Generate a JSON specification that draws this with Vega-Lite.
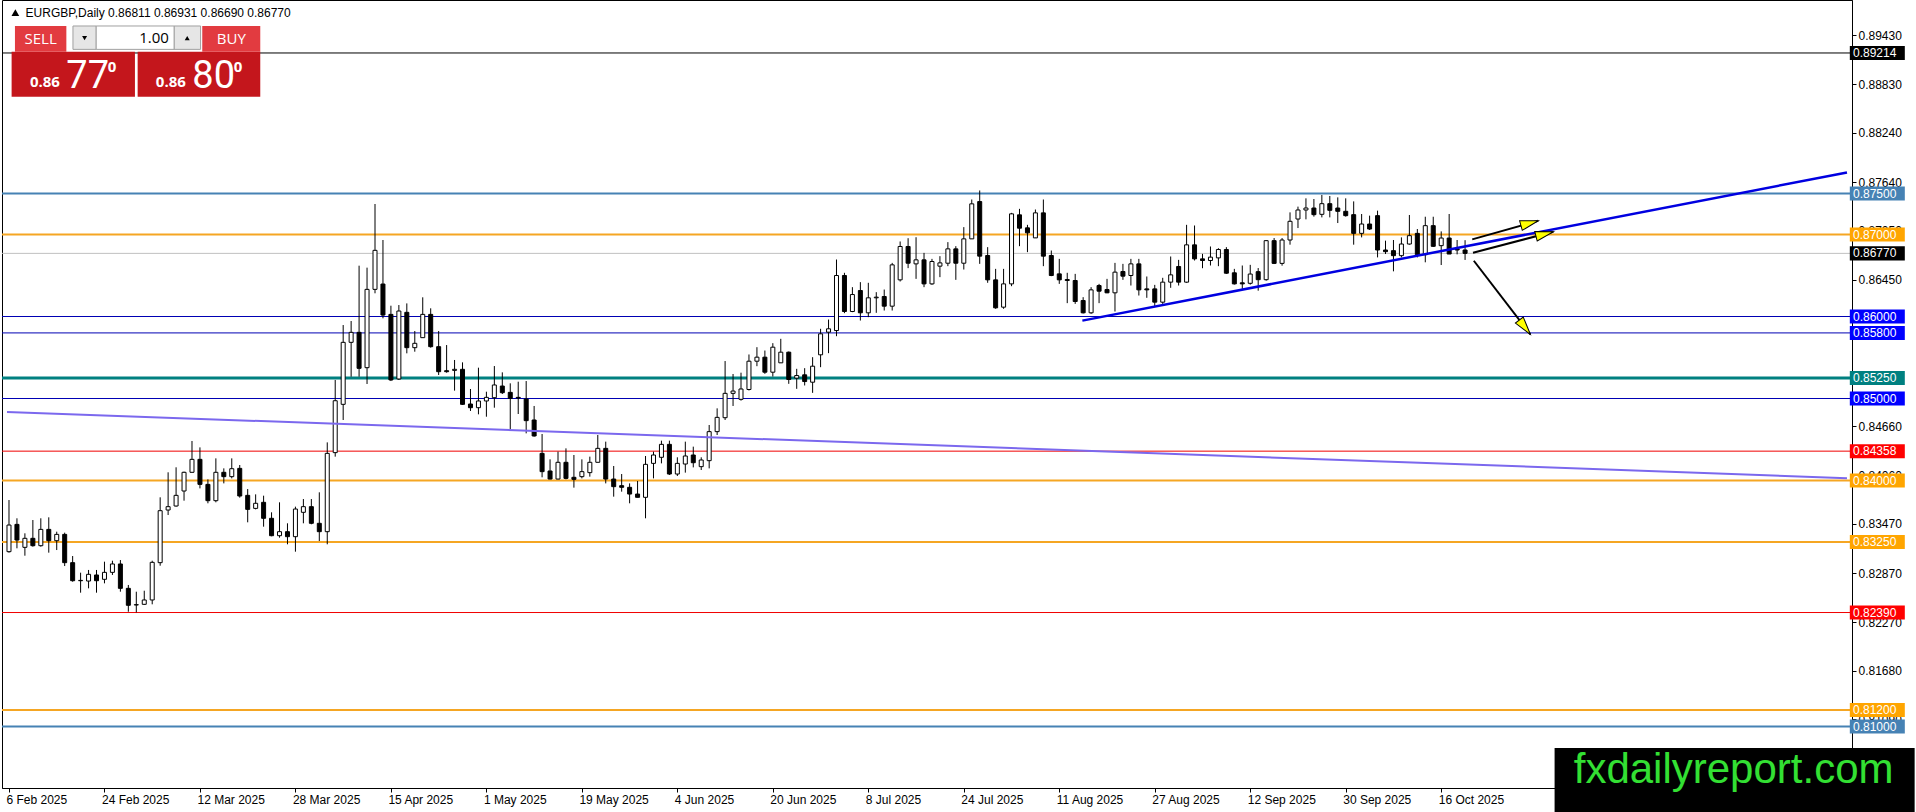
{
  "$schema": "https://vega.github.io/schema/vega-lite/v6.json",
  "description": "EURGBP daily candles with horizontal levels, trend lines and arrows",
  "width": 1850,
  "height": 788,
  "autosize": "none",
  "padding": {"left": 2, "top": 0, "right": 64, "bottom": 24},
  "background": "white",
  "config": {
    "view": {"stroke": "black", "strokeWidth": 1},
    "font": "Liberation Sans",
    "axis": {"grid": false, "domainColor": "black", "tickColor": "black", "labelColor": "black", "labelFont": "Liberation Sans", "labelFontSize": 12}
  },
  "datasets": {
    "candles": [
      {"d":"2025-02-06","i":0,"o":0.83132,"h":0.83762,"l":0.8312,"c":0.83457},
      {"d":"2025-02-07","i":1,"o":0.83465,"h":0.83539,"l":0.83173,"c":0.83274},
      {"d":"2025-02-10","i":2,"o":0.83185,"h":0.83356,"l":0.83083,"c":0.83295},
      {"d":"2025-02-11","i":3,"o":0.83295,"h":0.83518,"l":0.83193,"c":0.83205},
      {"d":"2025-02-12","i":4,"o":0.83205,"h":0.83539,"l":0.83193,"c":0.83404},
      {"d":"2025-02-13","i":5,"o":0.83404,"h":0.83551,"l":0.8312,"c":0.83266},
      {"d":"2025-02-14","i":6,"o":0.83266,"h":0.83376,"l":0.83152,"c":0.83343},
      {"d":"2025-02-17","i":7,"o":0.83343,"h":0.83364,"l":0.82957,"c":0.82998},
      {"d":"2025-02-18","i":8,"o":0.82998,"h":0.83079,"l":0.82766,"c":0.82778},
      {"d":"2025-02-19","i":9,"o":0.82778,"h":0.82876,"l":0.82632,"c":0.82782},
      {"d":"2025-02-20","i":10,"o":0.82774,"h":0.82909,"l":0.82685,"c":0.82856},
      {"d":"2025-02-21","i":11,"o":0.82848,"h":0.82909,"l":0.82632,"c":0.82778},
      {"d":"2025-02-24","i":12,"o":0.82795,"h":0.8301,"l":0.82746,"c":0.8288},
      {"d":"2025-02-25","i":13,"o":0.8288,"h":0.83022,"l":0.82848,"c":0.82982},
      {"d":"2025-02-26","i":14,"o":0.82982,"h":0.8303,"l":0.82644,"c":0.82685},
      {"d":"2025-02-27","i":15,"o":0.82685,"h":0.82726,"l":0.824,"c":0.82478},
      {"d":"2025-02-28","i":16,"o":0.82482,"h":0.82644,"l":0.82392,"c":0.82486},
      {"d":"2025-03-03","i":17,"o":0.8249,"h":0.82656,"l":0.82482,"c":0.82543},
      {"d":"2025-03-04","i":18,"o":0.82543,"h":0.83022,"l":0.8249,"c":0.83002},
      {"d":"2025-03-05","i":19,"o":0.82998,"h":0.83795,"l":0.82961,"c":0.83632},
      {"d":"2025-03-06","i":20,"o":0.8364,"h":0.841,"l":0.83579,"c":0.83681},
      {"d":"2025-03-07","i":21,"o":0.83689,"h":0.84161,"l":0.83681,"c":0.83819},
      {"d":"2025-03-10","i":22,"o":0.83872,"h":0.84108,"l":0.83754,"c":0.841},
      {"d":"2025-03-11","i":23,"o":0.841,"h":0.84482,"l":0.84096,"c":0.84258},
      {"d":"2025-03-12","i":24,"o":0.84258,"h":0.84404,"l":0.83904,"c":0.83953},
      {"d":"2025-03-13","i":25,"o":0.83953,"h":0.84014,"l":0.83722,"c":0.83754},
      {"d":"2025-03-14","i":26,"o":0.83754,"h":0.8427,"l":0.83734,"c":0.841},
      {"d":"2025-03-17","i":27,"o":0.841,"h":0.84148,"l":0.83965,"c":0.84047},
      {"d":"2025-03-18","i":28,"o":0.84047,"h":0.8427,"l":0.84026,"c":0.84144},
      {"d":"2025-03-19","i":29,"o":0.84148,"h":0.84189,"l":0.83791,"c":0.83811},
      {"d":"2025-03-20","i":30,"o":0.83819,"h":0.83896,"l":0.8349,"c":0.83648},
      {"d":"2025-03-21","i":31,"o":0.8366,"h":0.83831,"l":0.83648,"c":0.83722},
      {"d":"2025-03-24","i":32,"o":0.83734,"h":0.83815,"l":0.83437,"c":0.83539},
      {"d":"2025-03-25","i":33,"o":0.83539,"h":0.83612,"l":0.8332,"c":0.83327},
      {"d":"2025-03-26","i":34,"o":0.83327,"h":0.83734,"l":0.83303,"c":0.83376},
      {"d":"2025-03-27","i":35,"o":0.83376,"h":0.83478,"l":0.83222,"c":0.83315},
      {"d":"2025-03-28","i":36,"o":0.83315,"h":0.83681,"l":0.83132,"c":0.83652},
      {"d":"2025-03-31","i":37,"o":0.83612,"h":0.83774,"l":0.83478,"c":0.83681},
      {"d":"2025-04-01","i":38,"o":0.83681,"h":0.83774,"l":0.83466,"c":0.83478},
      {"d":"2025-04-02","i":39,"o":0.83478,"h":0.83856,"l":0.83262,"c":0.83376},
      {"d":"2025-04-03","i":40,"o":0.83376,"h":0.84465,"l":0.83222,"c":0.84331},
      {"d":"2025-04-04","i":41,"o":0.8434,"h":0.85226,"l":0.84291,"c":0.84973},
      {"d":"2025-04-07","i":42,"o":0.84929,"h":0.85896,"l":0.84738,"c":0.85685},
      {"d":"2025-04-08","i":43,"o":0.85685,"h":0.85945,"l":0.85266,"c":0.85807},
      {"d":"2025-04-09","i":44,"o":0.85807,"h":0.8662,"l":0.85266,"c":0.85368},
      {"d":"2025-04-10","i":45,"o":0.85376,"h":0.86596,"l":0.85177,"c":0.86331},
      {"d":"2025-04-11","i":46,"o":0.86331,"h":0.87372,"l":0.86283,"c":0.86807},
      {"d":"2025-04-14","i":47,"o":0.86396,"h":0.86933,"l":0.85978,"c":0.86018},
      {"d":"2025-04-15","i":48,"o":0.86026,"h":0.86132,"l":0.85213,"c":0.85226},
      {"d":"2025-04-16","i":49,"o":0.85238,"h":0.8614,"l":0.85226,"c":0.86067},
      {"d":"2025-04-17","i":50,"o":0.86051,"h":0.8616,"l":0.85551,"c":0.8562},
      {"d":"2025-04-18","i":51,"o":0.8562,"h":0.85823,"l":0.85571,"c":0.85673},
      {"d":"2025-04-21","i":52,"o":0.85742,"h":0.86234,"l":0.85742,"c":0.86026},
      {"d":"2025-04-22","i":53,"o":0.86026,"h":0.861,"l":0.8562,"c":0.85632},
      {"d":"2025-04-23","i":54,"o":0.85632,"h":0.85823,"l":0.85287,"c":0.85327},
      {"d":"2025-04-24","i":55,"o":0.85339,"h":0.85652,"l":0.85315,"c":0.85327},
      {"d":"2025-04-25","i":56,"o":0.85343,"h":0.8547,"l":0.85096,"c":0.85356},
      {"d":"2025-04-28","i":57,"o":0.85356,"h":0.85441,"l":0.84921,"c":0.84929},
      {"d":"2025-04-29","i":58,"o":0.84933,"h":0.85116,"l":0.84848,"c":0.84888},
      {"d":"2025-04-30","i":59,"o":0.84888,"h":0.85376,"l":0.84807,"c":0.8497},
      {"d":"2025-05-01","i":60,"o":0.8497,"h":0.85083,"l":0.84778,"c":0.85014},
      {"d":"2025-05-02","i":61,"o":0.8501,"h":0.85396,"l":0.84888,"c":0.85165},
      {"d":"2025-05-05","i":62,"o":0.85152,"h":0.85319,"l":0.85055,"c":0.85071},
      {"d":"2025-05-06","i":63,"o":0.85075,"h":0.85185,"l":0.84624,"c":0.85002},
      {"d":"2025-05-07","i":64,"o":0.85014,"h":0.85205,"l":0.84811,"c":0.85006},
      {"d":"2025-05-08","i":65,"o":0.84994,"h":0.85213,"l":0.84575,"c":0.8473},
      {"d":"2025-05-09","i":66,"o":0.84738,"h":0.84909,"l":0.84535,"c":0.84543},
      {"d":"2025-05-12","i":67,"o":0.84331,"h":0.84567,"l":0.84039,"c":0.84108},
      {"d":"2025-05-13","i":68,"o":0.84116,"h":0.84258,"l":0.84014,"c":0.84018},
      {"d":"2025-05-14","i":69,"o":0.84018,"h":0.84352,"l":0.84014,"c":0.84222},
      {"d":"2025-05-15","i":70,"o":0.84222,"h":0.84392,"l":0.84014,"c":0.84026},
      {"d":"2025-05-16","i":71,"o":0.84039,"h":0.84311,"l":0.83913,"c":0.84014},
      {"d":"2025-05-19","i":72,"o":0.84047,"h":0.84258,"l":0.84026,"c":0.84108},
      {"d":"2025-05-20","i":73,"o":0.84096,"h":0.84291,"l":0.84047,"c":0.84222},
      {"d":"2025-05-21","i":74,"o":0.84222,"h":0.84555,"l":0.84222,"c":0.84392},
      {"d":"2025-05-22","i":75,"o":0.84392,"h":0.84474,"l":0.83965,"c":0.84018},
      {"d":"2025-05-23","i":76,"o":0.84018,"h":0.84177,"l":0.83803,"c":0.83925},
      {"d":"2025-05-26","i":77,"o":0.83937,"h":0.84079,"l":0.83864,"c":0.83917},
      {"d":"2025-05-27","i":78,"o":0.83917,"h":0.83965,"l":0.83722,"c":0.83835},
      {"d":"2025-05-28","i":79,"o":0.83835,"h":0.83994,"l":0.83795,"c":0.83795},
      {"d":"2025-05-29","i":80,"o":0.83795,"h":0.84299,"l":0.83539,"c":0.84197},
      {"d":"2025-05-30","i":81,"o":0.84209,"h":0.84352,"l":0.84026,"c":0.84311},
      {"d":"2025-06-02","i":82,"o":0.84283,"h":0.84486,"l":0.84209,"c":0.84441},
      {"d":"2025-06-03","i":83,"o":0.84441,"h":0.84486,"l":0.84067,"c":0.84079},
      {"d":"2025-06-04","i":84,"o":0.84079,"h":0.84283,"l":0.84055,"c":0.84209},
      {"d":"2025-06-05","i":85,"o":0.84201,"h":0.84474,"l":0.84096,"c":0.84299},
      {"d":"2025-06-06","i":86,"o":0.84311,"h":0.84413,"l":0.8416,"c":0.84217},
      {"d":"2025-06-09","i":87,"o":0.84169,"h":0.84283,"l":0.84128,"c":0.8425},
      {"d":"2025-06-10","i":88,"o":0.84242,"h":0.84677,"l":0.84148,"c":0.84596},
      {"d":"2025-06-11","i":89,"o":0.84596,"h":0.8488,"l":0.84555,"c":0.8477},
      {"d":"2025-06-12","i":90,"o":0.84766,"h":0.85457,"l":0.84738,"c":0.85063},
      {"d":"2025-06-13","i":91,"o":0.85063,"h":0.85299,"l":0.84909,"c":0.85091},
      {"d":"2025-06-16","i":92,"o":0.8499,"h":0.85315,"l":0.84974,"c":0.85116},
      {"d":"2025-06-17","i":93,"o":0.8511,"h":0.85537,"l":0.85098,"c":0.85455},
      {"d":"2025-06-18","i":94,"o":0.85455,"h":0.85626,"l":0.85394,"c":0.85504},
      {"d":"2025-06-19","i":95,"o":0.85504,"h":0.85585,"l":0.85301,"c":0.85321},
      {"d":"2025-06-20","i":96,"o":0.85321,"h":0.85675,"l":0.85268,"c":0.85626},
      {"d":"2025-06-23","i":97,"o":0.85435,"h":0.85728,"l":0.85435,"c":0.85565},
      {"d":"2025-06-24","i":98,"o":0.85565,"h":0.85573,"l":0.85179,"c":0.85232},
      {"d":"2025-06-25","i":99,"o":0.85248,"h":0.85362,"l":0.85118,"c":0.8528},
      {"d":"2025-06-26","i":100,"o":0.85289,"h":0.8537,"l":0.85159,"c":0.85207},
      {"d":"2025-06-27","i":101,"o":0.85199,"h":0.85504,"l":0.85069,"c":0.85394},
      {"d":"2025-06-30","i":102,"o":0.85533,"h":0.8585,"l":0.85382,"c":0.85789},
      {"d":"2025-07-01","i":103,"o":0.85809,"h":0.85963,"l":0.85553,"c":0.8585},
      {"d":"2025-07-02","i":104,"o":0.85829,"h":0.86695,"l":0.8576,"c":0.865},
      {"d":"2025-07-03","i":105,"o":0.865,"h":0.86533,"l":0.86041,"c":0.86061},
      {"d":"2025-07-04","i":106,"o":0.86061,"h":0.86358,"l":0.86053,"c":0.86268},
      {"d":"2025-07-07","i":107,"o":0.86317,"h":0.86419,"l":0.85951,"c":0.86045},
      {"d":"2025-07-08","i":108,"o":0.86045,"h":0.86411,"l":0.85992,"c":0.86228},
      {"d":"2025-07-09","i":109,"o":0.86228,"h":0.86297,"l":0.86045,"c":0.86236},
      {"d":"2025-07-10","i":110,"o":0.86244,"h":0.86329,"l":0.86073,"c":0.86126},
      {"d":"2025-07-11","i":111,"o":0.86126,"h":0.86654,"l":0.86073,"c":0.8663},
      {"d":"2025-07-14","i":112,"o":0.86447,"h":0.86915,"l":0.86427,"c":0.86854},
      {"d":"2025-07-15","i":113,"o":0.86854,"h":0.86955,"l":0.8659,"c":0.8665},
      {"d":"2025-07-16","i":114,"o":0.86642,"h":0.86967,"l":0.86459,"c":0.86691},
      {"d":"2025-07-17","i":115,"o":0.86691,"h":0.86776,"l":0.86358,"c":0.86398},
      {"d":"2025-07-18","i":116,"o":0.86398,"h":0.86703,"l":0.86386,"c":0.86671},
      {"d":"2025-07-21","i":117,"o":0.86614,"h":0.86736,"l":0.8648,"c":0.86654},
      {"d":"2025-07-22","i":118,"o":0.8665,"h":0.86907,"l":0.86614,"c":0.86825},
      {"d":"2025-07-23","i":119,"o":0.86825,"h":0.86858,"l":0.86447,"c":0.8665},
      {"d":"2025-07-24","i":120,"o":0.8665,"h":0.8709,"l":0.86573,"c":0.86947},
      {"d":"2025-07-25","i":121,"o":0.86947,"h":0.87427,"l":0.86947,"c":0.87374},
      {"d":"2025-07-28","i":122,"o":0.87402,"h":0.87537,"l":0.86642,"c":0.86736},
      {"d":"2025-07-29","i":123,"o":0.86744,"h":0.86846,"l":0.86411,"c":0.86447},
      {"d":"2025-07-30","i":124,"o":0.86447,"h":0.86581,"l":0.86094,"c":0.86106},
      {"d":"2025-07-31","i":125,"o":0.86114,"h":0.86581,"l":0.86094,"c":0.86398},
      {"d":"2025-08-01","i":126,"o":0.86398,"h":0.87264,"l":0.8637,"c":0.87252},
      {"d":"2025-08-04","i":127,"o":0.8724,"h":0.87313,"l":0.86858,"c":0.87077},
      {"d":"2025-08-05","i":128,"o":0.87081,"h":0.87118,"l":0.86785,"c":0.8702},
      {"d":"2025-08-06","i":129,"o":0.86959,"h":0.87305,"l":0.86959,"c":0.87264},
      {"d":"2025-08-07","i":130,"o":0.87264,"h":0.87427,"l":0.86614,"c":0.86736},
      {"d":"2025-08-08","i":131,"o":0.86744,"h":0.86805,"l":0.86492,"c":0.865},
      {"d":"2025-08-11","i":132,"o":0.8652,"h":0.86703,"l":0.86398,"c":0.86447},
      {"d":"2025-08-12","i":133,"o":0.86451,"h":0.86533,"l":0.86163,"c":0.86439},
      {"d":"2025-08-13","i":134,"o":0.86439,"h":0.8652,"l":0.86154,"c":0.86183},
      {"d":"2025-08-14","i":135,"o":0.86195,"h":0.86236,"l":0.86037,"c":0.86045},
      {"d":"2025-08-15","i":136,"o":0.86045,"h":0.86358,"l":0.86033,"c":0.86325},
      {"d":"2025-08-18","i":137,"o":0.86378,"h":0.86398,"l":0.86163,"c":0.86309},
      {"d":"2025-08-19","i":138,"o":0.86329,"h":0.86459,"l":0.86285,"c":0.86289},
      {"d":"2025-08-20","i":139,"o":0.86289,"h":0.86654,"l":0.86061,"c":0.86541},
      {"d":"2025-08-21","i":140,"o":0.86549,"h":0.86642,"l":0.86447,"c":0.86492},
      {"d":"2025-08-22","i":141,"o":0.865,"h":0.86703,"l":0.86378,"c":0.86642},
      {"d":"2025-08-25","i":142,"o":0.86642,"h":0.86703,"l":0.86256,"c":0.86325},
      {"d":"2025-08-26","i":143,"o":0.86337,"h":0.86488,"l":0.86228,"c":0.86325},
      {"d":"2025-08-27","i":144,"o":0.86337,"h":0.86386,"l":0.86126,"c":0.86175},
      {"d":"2025-08-28","i":145,"o":0.86175,"h":0.86472,"l":0.86154,"c":0.86419},
      {"d":"2025-08-29","i":146,"o":0.86419,"h":0.86732,"l":0.8635,"c":0.86508},
      {"d":"2025-09-01","i":147,"o":0.8661,"h":0.86691,"l":0.86378,"c":0.86419},
      {"d":"2025-09-02","i":148,"o":0.86419,"h":0.87118,"l":0.86411,"c":0.86874},
      {"d":"2025-09-03","i":149,"o":0.86874,"h":0.8711,"l":0.86683,"c":0.86703},
      {"d":"2025-09-04","i":150,"o":0.86703,"h":0.86764,"l":0.86589,"c":0.86683},
      {"d":"2025-09-05","i":151,"o":0.86683,"h":0.86854,"l":0.86622,"c":0.86724},
      {"d":"2025-09-08","i":152,"o":0.86715,"h":0.86833,"l":0.86614,"c":0.86817},
      {"d":"2025-09-09","i":153,"o":0.86817,"h":0.86846,"l":0.8652,"c":0.86528},
      {"d":"2025-09-10","i":154,"o":0.86533,"h":0.86581,"l":0.8639,"c":0.86398},
      {"d":"2025-09-11","i":155,"o":0.86411,"h":0.86622,"l":0.86337,"c":0.86398},
      {"d":"2025-09-12","i":156,"o":0.86405,"h":0.8663,"l":0.86389,"c":0.86518},
      {"d":"2025-09-15","i":157,"o":0.86547,"h":0.86591,"l":0.86315,"c":0.86449},
      {"d":"2025-09-16","i":158,"o":0.86449,"h":0.86933,"l":0.86437,"c":0.86925},
      {"d":"2025-09-17","i":159,"o":0.86925,"h":0.86957,"l":0.8664,"c":0.86648},
      {"d":"2025-09-18","i":160,"o":0.86648,"h":0.86957,"l":0.8662,"c":0.86933},
      {"d":"2025-09-19","i":161,"o":0.86933,"h":0.8727,"l":0.86876,"c":0.87161},
      {"d":"2025-09-22","i":162,"o":0.87189,"h":0.8734,"l":0.87079,"c":0.87299},
      {"d":"2025-09-23","i":163,"o":0.87299,"h":0.87441,"l":0.87185,"c":0.87323},
      {"d":"2025-09-24","i":164,"o":0.87323,"h":0.87433,"l":0.87218,"c":0.87242},
      {"d":"2025-09-25","i":165,"o":0.87246,"h":0.87482,"l":0.87209,"c":0.87376},
      {"d":"2025-09-26","i":166,"o":0.87376,"h":0.8747,"l":0.87209,"c":0.87295},
      {"d":"2025-09-29","i":167,"o":0.87323,"h":0.87453,"l":0.8714,"c":0.87283},
      {"d":"2025-09-30","i":168,"o":0.87283,"h":0.87441,"l":0.87218,"c":0.8723},
      {"d":"2025-10-01","i":169,"o":0.87242,"h":0.87404,"l":0.86876,"c":0.87014},
      {"d":"2025-10-02","i":170,"o":0.87014,"h":0.8725,"l":0.86965,"c":0.87128},
      {"d":"2025-10-03","i":171,"o":0.87128,"h":0.8723,"l":0.87055,"c":0.87067},
      {"d":"2025-10-06","i":172,"o":0.8723,"h":0.87291,"l":0.86721,"c":0.86811},
      {"d":"2025-10-07","i":173,"o":0.86811,"h":0.86925,"l":0.86762,"c":0.86791},
      {"d":"2025-10-08","i":174,"o":0.86803,"h":0.86933,"l":0.86551,"c":0.86742},
      {"d":"2025-10-09","i":175,"o":0.86742,"h":0.86965,"l":0.86721,"c":0.86884},
      {"d":"2025-10-10","i":176,"o":0.86884,"h":0.87238,"l":0.86876,"c":0.86986},
      {"d":"2025-10-13","i":177,"o":0.87014,"h":0.87067,"l":0.86721,"c":0.86754},
      {"d":"2025-10-14","i":178,"o":0.86754,"h":0.87217,"l":0.86661,"c":0.87108},
      {"d":"2025-10-15","i":179,"o":0.87108,"h":0.87217,"l":0.86848,"c":0.86856},
      {"d":"2025-10-16","i":180,"o":0.86864,"h":0.87038,"l":0.86628,"c":0.86957},
      {"d":"2025-10-17","i":181,"o":0.86957,"h":0.8725,"l":0.86762,"c":0.86762},
      {"d":"2025-10-20","i":182,"o":0.86823,"h":0.86933,"l":0.86758,"c":0.86811},
      {"d":"2025-10-21","i":183,"o":0.86811,"h":0.86931,"l":0.8669,"c":0.8677}
    ],
    "levels": [
      {"p":0.89214,"g":"black"},
      {"p":0.875,"g":"steel"},
      {"p":0.87,"g":"orange"},
      {"p":0.8677,"g":"price"},
      {"p":0.86,"g":"blue"},
      {"p":0.858,"g":"blue"},
      {"p":0.8525,"g":"teal"},
      {"p":0.85,"g":"blue"},
      {"p":0.84358,"g":"red"},
      {"p":0.84,"g":"orange"},
      {"p":0.8325,"g":"orange"},
      {"p":0.8239,"g":"red"},
      {"p":0.812,"g":"orange"},
      {"p":0.81,"g":"steel"}
    ],
    "trend": [
      {"name":"support","i":134.9,"p":0.8595},
      {"name":"support","i":231,"p":0.87757},
      {"name":"channel","i":-0.25,"p":0.84836},
      {"name":"channel","i":231,"p":0.84029}
    ],
    "arrows": [
      {"id":"up1","i":183.9,"p":0.86941,"i2":192.2,"p2":0.87168},
      {"id":"up2","i":184,"p":0.86778,"i2":194.1,"p2":0.87034},
      {"id":"down","i":184.1,"p":0.8668,"i2":191.2,"p2":0.85783}
    ]
  },
  "layer": [
    {
      "data": {"name": "levels"},
      "transform": [{"filter": "datum.g == 'black' || datum.g == 'price' || datum.g == 'blue' || datum.g == 'red'"}],
      "mark": {"type": "rule", "strokeWidth": 1},
      "encoding": {
        "y": {"field": "p", "type": "quantitative", "title": null,
          "scale": {"domain": [0.8025, 0.8986], "nice": false, "zero": false},
          "axis": {"orient": "right", "title": null, "format": ".5f",
            "values": [0.8943, 0.8883, 0.8824, 0.8764, 0.8705, 0.8645, 0.8466, 0.8406, 0.8347, 0.8287, 0.8227, 0.8168, 0.8109],
            "tickSize": 4, "labelPadding": 2, "labelOverlap": false, "labelBound": false, "labelFlush": false}},
        "stroke": {"field": "g", "type": "nominal", "legend": null,
          "scale": {"domain": ["black", "steel", "orange", "price", "blue", "teal", "red"], "range": ["#000000", "#4682B4", "#F5A623", "#C0C0C0", "#0000B4", "#008080", "#F00000"]}}
      }
    },
    {
      "data": {"name": "levels"},
      "transform": [{"filter": "datum.g == 'steel' || datum.g == 'orange'"}],
      "mark": {"type": "rule", "strokeWidth": 2},
      "encoding": {
        "y": {"field": "p", "type": "quantitative", "title": null, "scale": {"domain": [0.8025, 0.8986], "nice": false, "zero": false}},
        "stroke": {"field": "g", "type": "nominal", "legend": null,
          "scale": {"domain": ["black", "steel", "orange", "price", "blue", "teal", "red"], "range": ["#000000", "#4682B4", "#F5A623", "#C0C0C0", "#0000B4", "#008080", "#F00000"]}}
      }
    },
    {
      "data": {"name": "levels"},
      "transform": [{"filter": "datum.g == 'teal'"}],
      "mark": {"type": "rule", "strokeWidth": 3},
      "encoding": {
        "y": {"field": "p", "type": "quantitative", "title": null, "scale": {"domain": [0.8025, 0.8986], "nice": false, "zero": false}},
        "stroke": {"field": "g", "type": "nominal", "legend": null,
          "scale": {"domain": ["black", "steel", "orange", "price", "blue", "teal", "red"], "range": ["#000000", "#4682B4", "#F5A623", "#C0C0C0", "#0000B4", "#008080", "#F00000"]}}
      }
    },
    {
      "data": {"name": "candles"},
      "mark": {"type": "rule", "color": "black", "strokeWidth": 1},
      "encoding": {
        "x": {"field": "i", "type": "quantitative", "title": null,
          "scale": {"domain": [-0.25, 231], "nice": false, "zero": false},
          "axis": {"orient": "bottom", "title": null,
            "values": [0, 12, 24, 36, 48, 60, 72, 84, 96, 108, 120, 132, 144, 156, 168, 180],
            "labelExpr": "['6 Feb 2025','24 Feb 2025','12 Mar 2025','28 Mar 2025','15 Apr 2025','1 May 2025','19 May 2025','4 Jun 2025','20 Jun 2025','8 Jul 2025','24 Jul 2025','11 Aug 2025','27 Aug 2025','12 Sep 2025','30 Sep 2025','16 Oct 2025'][round(datum.value / 12)]",
            "labelAlign": "left", "labelBaseline": "top", "labelOffset": -3, "tickSize": 4, "labelPadding": 2, "labelOverlap": false, "labelBound": false, "labelFlush": false}},
        "y": {"field": "l", "type": "quantitative", "title": null, "scale": {"domain": [0.8025, 0.8986], "nice": false, "zero": false}},
        "y2": {"field": "h"}
      }
    },
    {
      "data": {"name": "candles"},
      "mark": {"type": "bar", "width": 4, "stroke": "black", "strokeWidth": 1, "orient": "vertical"},
      "encoding": {
        "x": {"field": "i", "type": "quantitative", "title": null, "scale": {"domain": [-0.25, 231], "nice": false, "zero": false}},
        "y": {"field": "o", "type": "quantitative", "title": null, "scale": {"domain": [0.8025, 0.8986], "nice": false, "zero": false}},
        "y2": {"field": "c"},
        "fill": {"condition": {"test": "datum.c >= datum.o", "value": "white"}, "value": "black"}
      }
    },
    {
      "data": {"name": "trend"},
      "transform": [{"filter": "datum.name == 'channel'"}],
      "mark": {"type": "line", "color": "#7B68EE", "strokeWidth": 2},
      "encoding": {
        "x": {"field": "i", "type": "quantitative", "title": null, "scale": {"domain": [-0.25, 231], "nice": false, "zero": false}},
        "y": {"field": "p", "type": "quantitative", "title": null, "scale": {"domain": [0.8025, 0.8986], "nice": false, "zero": false}}
      }
    },
    {
      "data": {"name": "trend"},
      "transform": [{"filter": "datum.name == 'support'"}],
      "mark": {"type": "line", "color": "#0000E0", "strokeWidth": 2.5},
      "encoding": {
        "x": {"field": "i", "type": "quantitative", "title": null, "scale": {"domain": [-0.25, 231], "nice": false, "zero": false}},
        "y": {"field": "p", "type": "quantitative", "title": null, "scale": {"domain": [0.8025, 0.8986], "nice": false, "zero": false}}
      }
    },
    {
      "data": {"name": "arrows"},
      "mark": {"type": "rule", "color": "black", "strokeWidth": 2},
      "encoding": {
        "x": {"field": "i", "type": "quantitative", "title": null, "scale": {"domain": [-0.25, 231], "nice": false, "zero": false}},
        "y": {"field": "p", "type": "quantitative", "title": null, "scale": {"domain": [0.8025, 0.8986], "nice": false, "zero": false}},
        "x2": {"field": "i2"},
        "y2": {"field": "p2"}
      }
    },
    {
      "data": {"name": "arrows"},
      "transform": [{"filter": "datum.id == 'up1'"}],
      "mark": {"type": "point", "shape": "M0,0L-2,-0.55L-2,0.55Z", "size": 324, "filled": true, "fill": "#FFFF00", "stroke": "black", "strokeWidth": 1, "opacity": 1, "angle": 344.4},
      "encoding": {
        "x": {"field": "i2", "type": "quantitative", "title": null, "scale": {"domain": [-0.25, 231], "nice": false, "zero": false}},
        "y": {"field": "p2", "type": "quantitative", "title": null, "scale": {"domain": [0.8025, 0.8986], "nice": false, "zero": false}}
      }
    },
    {
      "data": {"name": "arrows"},
      "transform": [{"filter": "datum.id == 'up2'"}],
      "mark": {"type": "point", "shape": "M0,0L-2,-0.55L-2,0.55Z", "size": 324, "filled": true, "fill": "#FFFF00", "stroke": "black", "strokeWidth": 1, "opacity": 1, "angle": 345.4},
      "encoding": {
        "x": {"field": "i2", "type": "quantitative", "title": null, "scale": {"domain": [-0.25, 231], "nice": false, "zero": false}},
        "y": {"field": "p2", "type": "quantitative", "title": null, "scale": {"domain": [0.8025, 0.8986], "nice": false, "zero": false}}
      }
    },
    {
      "data": {"name": "arrows"},
      "transform": [{"filter": "datum.id == 'down'"}],
      "mark": {"type": "point", "shape": "M0,0L-2,-0.55L-2,0.55Z", "size": 324, "filled": true, "fill": "#FFFF00", "stroke": "black", "strokeWidth": 1, "opacity": 1, "angle": 52.3},
      "encoding": {
        "x": {"field": "i2", "type": "quantitative", "title": null, "scale": {"domain": [-0.25, 231], "nice": false, "zero": false}},
        "y": {"field": "p2", "type": "quantitative", "title": null, "scale": {"domain": [0.8025, 0.8986], "nice": false, "zero": false}}
      }
    },
    {
      "data": {"values": [{"b":"SELL","i":0.33,"i2":15.83,"p":0.89229,"p2":0.8868},{"b":"BUY","i":16.17,"i2":31.58,"p":0.89229,"p2":0.8868}]},
      "mark": {"type": "rect", "fill": "#C4161C"},
      "encoding": {
        "x": {"field": "i", "type": "quantitative", "title": null, "scale": {"domain": [-0.25, 231], "nice": false, "zero": false}},
        "x2": {"field": "i2"},
        "y": {"field": "p", "type": "quantitative", "title": null, "scale": {"domain": [0.8025, 0.8986], "nice": false, "zero": false}},
        "y2": {"field": "p2"}
      }
    },
    {
      "data": {"values": [{"b":"SELL","i":0.75,"i2":7.21,"p":0.89543,"p2":0.89229},{"b":"BUY","i":24.29,"i2":31.58,"p":0.89543,"p2":0.89229}]},
      "mark": {"type": "rect", "fill": "#E23B40"},
      "encoding": {
        "x": {"field": "i", "type": "quantitative", "title": null, "scale": {"domain": [-0.25, 231], "nice": false, "zero": false}},
        "x2": {"field": "i2"},
        "y": {"field": "p", "type": "quantitative", "title": null, "scale": {"domain": [0.8025, 0.8986], "nice": false, "zero": false}},
        "y2": {"field": "p2"}
      }
    },
    {
      "data": {"values": [{"b":"down","i":8.04,"i2":10.96,"p":0.89543,"p2":0.89258},{"b":"up","i":20.75,"i2":24.08,"p":0.89543,"p2":0.89258}]},
      "mark": {"type": "rect", "fill": "#E6E6E6", "stroke": "#A0A0A0", "strokeWidth": 1},
      "encoding": {
        "x": {"field": "i", "type": "quantitative", "title": null, "scale": {"domain": [-0.25, 231], "nice": false, "zero": false}},
        "x2": {"field": "i2"},
        "y": {"field": "p", "type": "quantitative", "title": null, "scale": {"domain": [0.8025, 0.8986], "nice": false, "zero": false}},
        "y2": {"field": "p2"}
      }
    },
    {
      "data": {"values": [{"b":"lots","i":10.96,"i2":20.75,"p":0.89543,"p2":0.89258}]},
      "mark": {"type": "rect", "fill": "white", "stroke": "#A0A0A0", "strokeWidth": 1},
      "encoding": {
        "x": {"field": "i", "type": "quantitative", "title": null, "scale": {"domain": [-0.25, 231], "nice": false, "zero": false}},
        "x2": {"field": "i2"},
        "y": {"field": "p", "type": "quantitative", "title": null, "scale": {"domain": [0.8025, 0.8986], "nice": false, "zero": false}},
        "y2": {"field": "p2"}
      }
    },
    {
      "data": {"values": [{"t":"SELL","i":3.98,"p":0.89384},{"t":"BUY","i":27.94,"p":0.89384}]},
      "mark": {"type": "text", "color": "white", "fontSize": 15, "align": "center", "baseline": "middle", "font": "Open Sans"},
      "encoding": {
        "x": {"field": "i", "type": "quantitative", "title": null, "scale": {"domain": [-0.25, 231], "nice": false, "zero": false}},
        "y": {"field": "p", "type": "quantitative", "title": null, "scale": {"domain": [0.8025, 0.8986], "nice": false, "zero": false}},
        "text": {"field": "t"}
      }
    },
    {
      "data": {"values": [{"t":"1.00","i":20.1,"p":0.89396}]},
      "mark": {"type": "text", "color": "black", "fontSize": 15, "align": "right", "baseline": "middle", "font": "Open Sans"},
      "encoding": {
        "x": {"field": "i", "type": "quantitative", "title": null, "scale": {"domain": [-0.25, 231], "nice": false, "zero": false}},
        "y": {"field": "p", "type": "quantitative", "title": null, "scale": {"domain": [0.8025, 0.8986], "nice": false, "zero": false}},
        "text": {"field": "t"}
      }
    },
    {
      "data": {"values": [{"b":"down","i":9.5,"p":0.89396}]},
      "mark": {"type": "point", "shape": "triangle-down", "size": 25, "filled": true, "color": "black", "opacity": 1},
      "encoding": {
        "x": {"field": "i", "type": "quantitative", "title": null, "scale": {"domain": [-0.25, 231], "nice": false, "zero": false}},
        "y": {"field": "p", "type": "quantitative", "title": null, "scale": {"domain": [0.8025, 0.8986], "nice": false, "zero": false}}
      }
    },
    {
      "data": {"values": [{"b":"up","i":22.4,"p":0.89396}]},
      "mark": {"type": "point", "shape": "triangle-up", "size": 25, "filled": true, "color": "black", "opacity": 1},
      "encoding": {
        "x": {"field": "i", "type": "quantitative", "title": null, "scale": {"domain": [-0.25, 231], "nice": false, "zero": false}},
        "y": {"field": "p", "type": "quantitative", "title": null, "scale": {"domain": [0.8025, 0.8986], "nice": false, "zero": false}}
      }
    },
    {
      "data": {"values": [{"b":"header","i":0.8,"p":0.89707}]},
      "mark": {"type": "point", "shape": "triangle-up", "size": 60, "filled": true, "color": "black", "opacity": 1},
      "encoding": {
        "x": {"field": "i", "type": "quantitative", "title": null, "scale": {"domain": [-0.25, 231], "nice": false, "zero": false}},
        "y": {"field": "p", "type": "quantitative", "title": null, "scale": {"domain": [0.8025, 0.8986], "nice": false, "zero": false}}
      }
    },
    {
      "data": {"values": [{"t":"0.86","i":2.625,"p":0.88795},{"t":"0.86","i":18.46,"p":0.88795}]},
      "mark": {"type": "text", "color": "white", "fontSize": 15, "fontWeight": "bold", "align": "left", "baseline": "alphabetic", "font": "Open Sans"},
      "encoding": {
        "x": {"field": "i", "type": "quantitative", "title": null, "scale": {"domain": [-0.25, 231], "nice": false, "zero": false}},
        "y": {"field": "p", "type": "quantitative", "title": null, "scale": {"domain": [0.8025, 0.8986], "nice": false, "zero": false}},
        "text": {"field": "t"}
      }
    },
    {
      "data": {"values": [{"t":"77","i":7.2,"p":0.88783},{"t":"80","i":23.04,"p":0.88783}]},
      "mark": {"type": "text", "color": "white", "fontSize": 38, "align": "left", "baseline": "alphabetic", "font": "Roboto"},
      "encoding": {
        "x": {"field": "i", "type": "quantitative", "title": null, "scale": {"domain": [-0.25, 231], "nice": false, "zero": false}},
        "y": {"field": "p", "type": "quantitative", "title": null, "scale": {"domain": [0.8025, 0.8986], "nice": false, "zero": false}},
        "text": {"field": "t"}
      }
    },
    {
      "data": {"values": [{"t":"0","i":12.4,"p":0.88985},{"t":"0","i":28.25,"p":0.88985}]},
      "mark": {"type": "text", "color": "white", "fontSize": 15, "fontWeight": "bold", "align": "left", "baseline": "alphabetic", "font": "Open Sans"},
      "encoding": {
        "x": {"field": "i", "type": "quantitative", "title": null, "scale": {"domain": [-0.25, 231], "nice": false, "zero": false}},
        "y": {"field": "p", "type": "quantitative", "title": null, "scale": {"domain": [0.8025, 0.8986], "nice": false, "zero": false}},
        "text": {"field": "t"}
      }
    },
    {
      "data": {"values": [{"t":"EURGBP,Daily  0.86811 0.86931 0.86690 0.86770","i":2.09,"p":0.89698}]},
      "mark": {"type": "text", "color": "black", "fontSize": 12, "align": "left", "baseline": "middle"},
      "encoding": {
        "x": {"field": "i", "type": "quantitative", "title": null, "scale": {"domain": [-0.25, 231], "nice": false, "zero": false}},
        "y": {"field": "p", "type": "quantitative", "title": null, "scale": {"domain": [0.8025, 0.8986], "nice": false, "zero": false}},
        "text": {"field": "t"}
      }
    },
    {
      "data": {"name": "levels"},
      "mark": {"type": "point", "shape": "M-1,-0.255L1,-0.255L1,0.255L-1,0.255Z", "size": 3025, "filled": true, "opacity": 1, "strokeWidth": 0},
      "encoding": {
        "x": {"datum": 234.81, "type": "quantitative", "scale": {"domain": [-0.25, 231], "nice": false, "zero": false}},
        "y": {"field": "p", "type": "quantitative", "title": null, "scale": {"domain": [0.8025, 0.8986], "nice": false, "zero": false}},
        "fill": {"field": "g", "type": "nominal", "legend": null,
          "scale": {"domain": ["black", "steel", "orange", "price", "blue", "teal", "red"], "range": ["#000000", "#4682B4", "#FFA500", "#000000", "#0000FF", "#008080", "#FF0000"]}}
      }
    },
    {
      "data": {"name": "levels"},
      "mark": {"type": "text", "color": "white", "fontSize": 12, "align": "left", "baseline": "middle"},
      "encoding": {
        "x": {"datum": 231.75, "type": "quantitative", "scale": {"domain": [-0.25, 231], "nice": false, "zero": false}},
        "y": {"field": "p", "type": "quantitative", "title": null, "scale": {"domain": [0.8025, 0.8986], "nice": false, "zero": false}},
        "text": {"field": "p", "type": "quantitative", "format": ".5f"}
      }
    },
    {
      "data": {"values": [{"site":"fxdailyreport.com","i":194.25,"i2":239.5,"p":0.80738,"p2":0.7995}]},
      "mark": {"type": "rect", "fill": "black"},
      "encoding": {
        "x": {"field": "i", "type": "quantitative", "title": null, "scale": {"domain": [-0.25, 231], "nice": false, "zero": false}},
        "x2": {"field": "i2"},
        "y": {"field": "p", "type": "quantitative", "title": null, "scale": {"domain": [0.8025, 0.8986], "nice": false, "zero": false}},
        "y2": {"field": "p2"}
      }
    },
    {
      "data": {"values": [{"site":"fxdailyreport.com","i":216.75,"p":0.80305}]},
      "mark": {"type": "text", "color": "#33E033", "fontSize": 42, "align": "center", "baseline": "alphabetic"},
      "encoding": {
        "x": {"field": "i", "type": "quantitative", "title": null, "scale": {"domain": [-0.25, 231], "nice": false, "zero": false}},
        "y": {"field": "p", "type": "quantitative", "title": null, "scale": {"domain": [0.8025, 0.8986], "nice": false, "zero": false}},
        "text": {"field": "site"}
      }
    }
  ]
}
